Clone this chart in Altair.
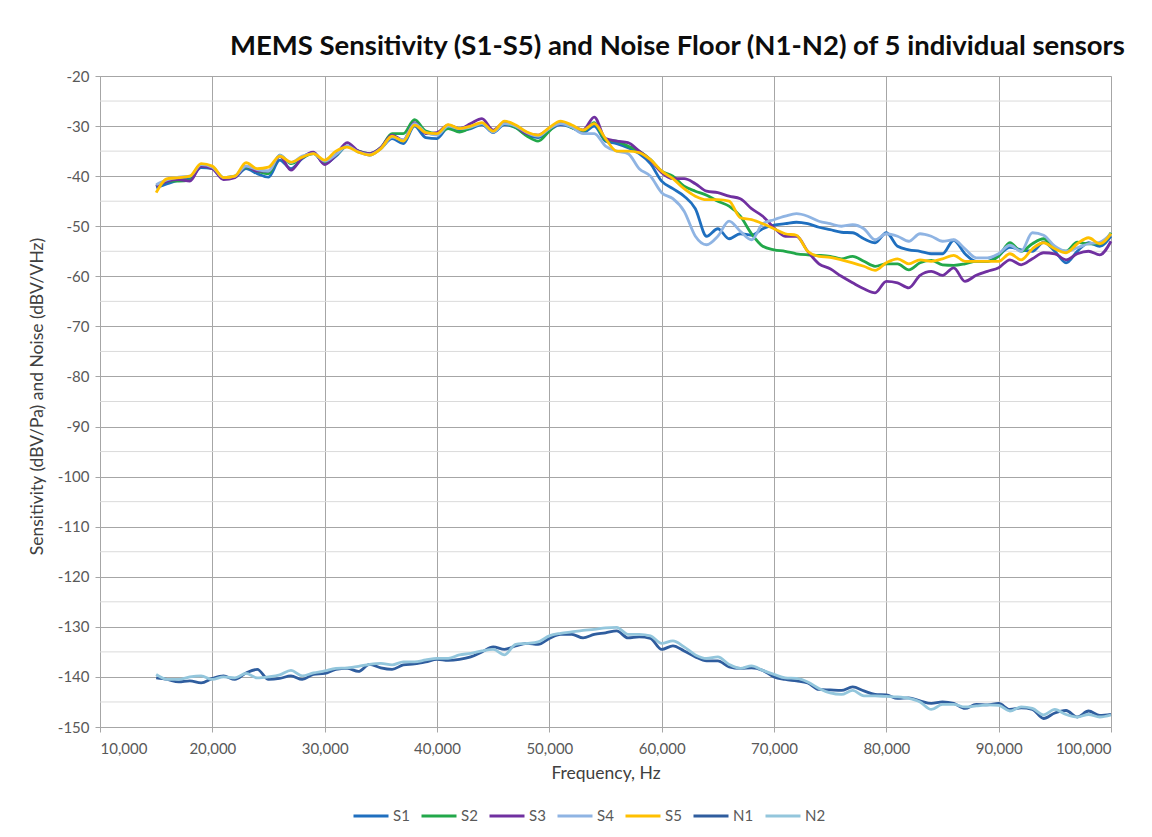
import altair as alt
import pandas as pd

FREQ = list(range(15000, 100001, 1000))

S1 = [-42.3, -41.5, -40.8, -40.5, -38.3, -38.5, -40.5, -40.2, -38.5, -39.5,
      -40.2, -36.8, -38.5, -36.5, -35.3, -37.5, -36.0, -34.0, -35.0, -35.8,
      -34.5, -32.5, -33.5, -30.0, -32.3, -32.5, -30.3, -31.0, -30.5, -29.7,
      -31.3, -29.7, -30.3, -31.8, -32.3, -30.8, -29.7, -30.3, -31.3, -30.0,
      -33.0, -33.5, -34.3, -35.5, -37.5, -41.0, -42.5, -44.0, -46.5, -52.0,
      -50.5, -52.5, -51.5, -51.8, -50.5, -49.8, -49.5, -49.2, -49.5, -50.2,
      -50.7, -51.2, -51.3, -52.5, -53.3, -51.3, -54.0, -54.7, -55.0, -55.5,
      -55.5, -52.8, -55.5, -57.0, -57.0, -55.8, -54.2, -54.7, -55.0, -53.2,
      -55.0, -57.3, -55.0, -53.3, -54.0, -52.0]
S2 = [-42.0, -41.0, -41.0, -40.8, -37.8, -38.2, -40.3, -40.0, -38.2, -39.0,
      -39.5, -35.8, -37.5, -36.3, -35.5, -37.2, -35.8, -34.0, -35.0, -35.5,
      -34.3, -31.5, -31.5, -28.7, -31.0, -31.5, -30.5, -31.2, -30.3, -29.5,
      -31.0, -29.5, -30.3, -32.0, -33.0, -31.0, -29.3, -30.3, -31.0, -29.3,
      -32.8, -33.0, -34.0, -35.0, -36.7, -39.0, -40.0, -42.0, -43.0, -43.8,
      -45.0, -46.0, -48.0, -51.5, -54.0, -54.7, -55.0, -55.5, -55.7, -55.8,
      -56.0, -56.5, -56.0, -57.0, -58.0, -57.5, -57.5, -58.7, -57.3, -56.8,
      -57.7, -57.8, -57.5, -57.0, -57.0, -56.0, -53.3, -55.0, -53.5, -52.5,
      -54.5, -55.0, -53.2, -53.5, -53.5, -51.3]
S3 = [-42.0, -41.0, -40.7, -41.0, -38.0, -38.5, -40.7, -40.3, -38.0, -39.0,
      -39.0, -36.0, -38.8, -36.3, -35.2, -37.7, -35.8, -33.3, -35.0, -35.5,
      -34.3, -31.8, -32.8, -29.3, -31.5, -31.3, -29.8, -30.5, -29.5, -28.5,
      -30.8, -29.3, -30.0, -31.5, -31.8, -30.5, -29.5, -30.0, -30.8, -28.2,
      -32.5, -33.0, -33.3, -35.0, -36.8, -39.3, -40.5, -40.5, -41.5, -43.0,
      -43.3, -44.0, -44.5, -46.5, -48.0, -50.3, -52.0, -52.0, -55.0, -57.5,
      -58.5, -60.0, -61.3, -62.5, -63.3, -61.0, -61.3, -62.3, -59.8, -59.0,
      -59.8, -58.3, -61.0, -59.8, -59.0, -58.3, -56.7, -57.7, -56.5, -55.3,
      -55.5, -56.7, -55.5, -55.0, -55.7, -53.0]
S4 = [-41.7, -40.7, -40.2, -40.0, -37.7, -38.2, -40.3, -40.0, -38.0, -38.7,
      -39.0, -35.8, -37.3, -36.0, -35.5, -37.0, -35.7, -34.0, -35.2, -35.7,
      -34.5, -32.2, -32.8, -29.5, -31.3, -31.8, -30.0, -30.5, -30.2, -29.5,
      -31.2, -29.5, -30.0, -31.3, -32.0, -30.5, -29.5, -30.2, -31.5, -31.5,
      -34.0, -35.0, -35.5, -38.5, -40.0, -43.3, -44.5, -47.0, -52.0, -53.7,
      -52.0, -49.0, -51.0, -52.7, -49.5, -48.7, -48.0, -47.5, -48.0, -49.0,
      -49.5, -50.0, -49.7, -50.5, -52.7, -51.5, -52.0, -53.0, -51.5, -52.0,
      -53.0, -52.7, -54.5, -56.3, -56.3, -55.5, -53.8, -55.0, -51.3, -51.8,
      -54.0, -55.0, -54.3, -53.5, -53.2, -51.5]
S5 = [-43.3, -40.5, -40.3, -40.0, -37.5, -38.0, -40.3, -40.0, -37.3, -38.5,
      -38.2, -36.0, -37.2, -36.2, -35.5, -36.8, -35.0, -34.2, -35.2, -35.8,
      -34.5, -32.0, -33.0, -29.8, -31.3, -31.5, -29.7, -30.5, -30.0, -29.3,
      -31.0, -29.0, -29.8, -31.2, -31.8, -30.3, -29.0, -29.8, -30.8, -29.5,
      -32.5, -35.0, -35.0, -35.3, -36.7, -39.0, -40.5, -42.5, -44.0, -44.7,
      -44.7, -45.0, -48.3, -48.7, -49.5, -50.5, -51.5, -51.8, -55.0, -56.0,
      -56.2, -56.7, -57.3, -58.0, -58.8, -57.3, -56.5, -57.5, -56.7, -57.0,
      -56.5, -55.8, -57.0, -57.0, -57.0, -57.0, -55.5, -56.7, -54.5, -53.3,
      -54.5, -55.3, -53.5, -52.3, -53.5, -51.5]
N1 = [-140.2, -140.5, -141.0, -140.8, -141.2, -140.3, -139.8, -140.5, -139.2, -138.5,
      -140.5, -140.3, -139.8, -140.5, -139.5, -139.3, -138.5, -138.3, -138.9, -137.5,
      -138.2, -138.5, -137.6, -137.4, -137.0, -136.5, -136.7, -136.5, -136.0, -135.0,
      -134.0, -134.5, -133.8, -133.3, -133.5, -132.3, -131.5, -131.5, -132.2, -131.5,
      -131.2, -130.8, -132.2, -132.0, -132.3, -134.5, -133.8, -134.8, -136.0, -136.8,
      -136.8, -138.0, -138.3, -138.2, -138.7, -140.0, -140.5, -140.8, -141.2, -142.5,
      -142.6, -142.7, -142.0, -142.8, -143.5, -143.6, -144.3, -144.2, -144.8, -145.3,
      -145.0, -145.3, -146.3, -145.5, -145.6, -145.3, -146.5, -146.2, -146.5, -148.3,
      -147.2, -146.7, -148.0, -146.8, -147.7, -147.5]
N2 = [-139.5, -140.5, -140.5, -140.0, -139.8, -140.5, -140.0, -140.2, -139.3, -140.2,
      -140.0, -139.6, -138.7, -139.8, -139.2, -138.8, -138.3, -138.2, -137.9, -137.5,
      -137.3, -137.6, -137.0, -137.0, -136.6, -136.3, -136.3, -135.6, -135.3, -134.8,
      -134.5, -135.6, -133.5, -133.3, -133.0, -131.8, -131.3, -131.0, -130.7, -130.5,
      -130.2, -130.1, -131.5, -131.5, -131.8, -133.3, -132.8, -134.0, -135.6, -136.3,
      -136.0, -137.5, -138.3, -137.8, -138.7, -139.5, -140.2, -140.3, -141.0, -142.3,
      -143.2, -143.5, -142.7, -143.8, -143.8, -143.9, -144.0, -144.3, -145.0, -146.5,
      -145.5, -145.5, -146.0, -145.8, -145.6, -145.7, -146.8, -146.0, -146.3, -147.6,
      -146.5, -147.5, -148.0, -147.5, -148.0, -147.6]

SERIES = ["S1", "S2", "S3", "S4", "S5", "N1", "N2"]
COLORS = ["#1f6fbf", "#22a84a", "#7030a0", "#8fb4e3", "#ffc000", "#2f5d9e", "#93c6dc"]
Y_TICKS = [-20, -30, -40, -50, -60, -70, -80, -90, -100, -110, -120, -130, -140, -150]
Y_MINOR = [-25, -35, -45, -55, -65, -75, -85, -95, -105, -115, -125, -135, -145]
X_TICKS = [10000, 20000, 30000, 40000, 50000, 60000, 70000, 80000, 90000, 100000]

values = {"S1": S1, "S2": S2, "S3": S3, "S4": S4, "S5": S5, "N1": N1, "N2": N2}
rows = []
for i, s in enumerate(SERIES):
    for f, v in zip(FREQ, values[s]):
        rows.append({"freq": f, "value": v, "series": s, "order": i})
df = pd.DataFrame(rows)

FONT = "Lato"
LABEL_COLOR = "#595959"

xscale = alt.Scale(domain=[10000, 100000], nice=False, zero=False)
yscale = alt.Scale(domain=[-150, -20], nice=False, zero=False)

y_axis = alt.Axis(values=Y_TICKS, title="Sensitivity (dBV/Pa) and Noise (dBV/VHz)",
                  labelExpr="'' + datum.value",
                  grid=True, gridColor="#a6a6a6", gridWidth=1,
                  domainColor="#a6a6a6", tickColor="#a6a6a6", tickSize=5,
                  labelPadding=6, labelFont=FONT, labelFontSize=15,
                  labelColor=LABEL_COLOR, titleFont=FONT, titleFontSize=17.5,
                  titleFontWeight="normal", titleColor="#404040",
                  titleX=-63, titleY=320, titleAlign="center",
                  titleBaseline="middle")

minor = alt.Chart(pd.DataFrame({"value": Y_MINOR})).mark_rule(
    color="#dadada", strokeWidth=1
).encode(y=alt.Y("value:Q", scale=yscale, axis=y_axis))

lines = alt.Chart(df).mark_line(strokeWidth=2.8, interpolate="monotone").encode(
    x=alt.X("freq:Q", scale=xscale,
            axis=alt.Axis(values=X_TICKS, format=",d", title="Frequency, Hz",
                          grid=True, gridColor="#a6a6a6", gridWidth=1,
                          domainColor="#a6a6a6", tickColor="#a6a6a6", tickSize=5,
                          labelPadding=9, labelFont=FONT, labelFontSize=15,
                          labelColor=LABEL_COLOR, titleFont=FONT, titleFontSize=17.5,
                          titleFontWeight="normal", titleColor="#404040",
                          titleY=46, titleBaseline="middle")),
    y=alt.Y("value:Q", scale=yscale, axis=y_axis),
    color=alt.Color("series:N", sort=SERIES,
                    scale=alt.Scale(domain=SERIES, range=COLORS),
                    legend=alt.Legend(orient="none", legendX=252, legendY=721,
                                      direction="horizontal", columns=7, title=None,
                                      symbolType="stroke", symbolSize=1225,
                                      symbolStrokeWidth=3, labelOffset=3,
                                      columnPadding=5, labelFont=FONT,
                                      labelFontSize=15, labelColor=LABEL_COLOR)),
    order=alt.Order("order:Q"),
    detail="series:N",
)

chart = alt.layer(minor, lines).properties(
    width=1011, height=651,
    title=alt.TitleParams(
        "MEMS Sensitivity (S1-S5) and Noise Floor (N1-N2) of 5 individual sensors",
        anchor="start", frame="group", dx=130, offset=9, font=FONT, fontSize=27.5,
        fontWeight="bold", color="#0d0d0d"),
    autosize=alt.AutoSizeParams(type="none"),
    padding={"left": 92, "top": 68, "right": 30, "bottom": 110},
).configure_view(strokeWidth=0).configure(background="white")

chart.save("out.html", embed_options={"renderer": "svg", "actions": False})
